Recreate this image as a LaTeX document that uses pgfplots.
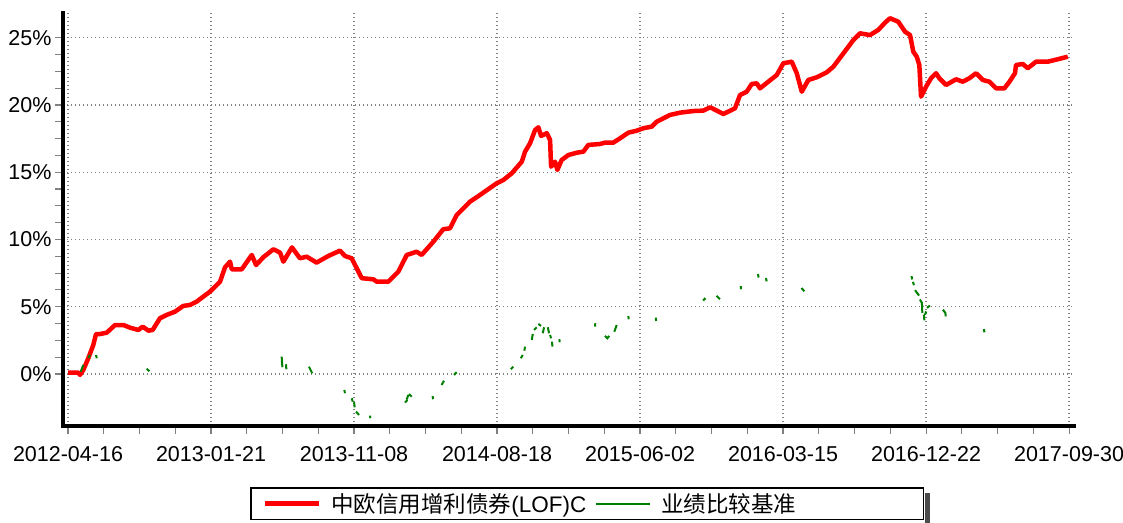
\documentclass[border=0pt]{standalone}
\usepackage{pgfplots}
\pgfplotsset{compat=1.18}
\usepackage{pgfplotstable}
\usepackage{fontspec}
\setmainfont{Liberation Sans}
\newfontfamily\cjk{Noto Sans CJK SC}
\definecolor{fundred}{RGB}{255,0,0}
\definecolor{benchgreen}{RGB}{0,128,0}
\definecolor{gridgray}{RGB}{128,128,128}

\pgfplotstableread{
x y
0.000 0.10
0.072 0.10
0.084 -0.07
0.107 0.30
0.142 1.17
0.177 2.16
0.196 2.97
0.224 2.97
0.271 3.07
0.329 3.64
0.387 3.64
0.434 3.44
0.492 3.27
0.522 3.52
0.562 3.22
0.592 3.27
0.643 4.14
0.690 4.39
0.748 4.63
0.806 5.06
0.853 5.13
0.900 5.38
0.946 5.75
0.993 6.12
1.063 6.86
1.098 7.93
1.133 8.35
1.145 7.78
1.215 7.78
1.285 8.85
1.315 8.10
1.366 8.68
1.436 9.27
1.483 9.02
1.506 8.35
1.566 9.41
1.622 8.60
1.669 8.72
1.738 8.28
1.820 8.77
1.902 9.17
1.937 8.77
1.984 8.60
2.054 7.12
2.135 7.04
2.159 6.86
2.240 6.86
2.310 7.61
2.369 8.85
2.438 9.09
2.473 8.85
2.555 9.84
2.624 10.76
2.671 10.83
2.718 11.82
2.811 12.81
2.881 13.31
2.998 14.18
3.044 14.42
3.103 14.92
3.173 15.78
3.196 16.53
3.231 17.15
3.266 18.14
3.289 18.34
3.308 17.70
3.348 17.90
3.371 17.40
3.378 15.41
3.406 15.78
3.422 15.17
3.452 15.91
3.499 16.28
3.557 16.45
3.604 16.53
3.638 17.03
3.720 17.10
3.755 17.20
3.813 17.20
3.860 17.52
3.918 17.94
3.977 18.09
4.023 18.27
4.082 18.39
4.117 18.76
4.210 19.26
4.280 19.43
4.373 19.55
4.443 19.58
4.490 19.83
4.583 19.33
4.664 19.75
4.699 20.74
4.746 20.99
4.781 21.56
4.816 21.61
4.839 21.24
4.897 21.73
4.956 22.23
5.002 23.10
5.061 23.22
5.096 22.36
5.131 20.99
5.177 21.86
5.236 22.06
5.306 22.43
5.352 22.85
5.422 23.84
5.492 24.83
5.538 25.33
5.608 25.20
5.666 25.58
5.713 26.12
5.748 26.45
5.806 26.19
5.853 25.45
5.888 25.20
5.911 23.96
5.935 23.59
5.953 22.97
5.965 20.62
6.000 21.36
6.035 21.99
6.070 22.36
6.093 21.99
6.140 21.49
6.210 21.91
6.257 21.73
6.303 21.99
6.350 22.36
6.397 21.86
6.443 21.73
6.490 21.24
6.548 21.24
6.583 21.73
6.622 22.36
6.629 22.97
6.676 23.05
6.711 22.73
6.769 23.22
6.851 23.22
6.921 23.40
6.991 23.59
}\fundtable

\pgfplotstableread{
x y
0.089 0.17
0.107 0.67
nan nan
0.142 1.19
0.154 1.41
nan nan
0.196 1.41
0.201 1.17
nan nan
0.550 0.39
0.569 0.20
nan nan
1.494 1.29
1.499 0.50
nan nan
1.524 0.72
1.527 0.35
nan nan
1.685 0.54
1.708 0.05
nan nan
1.932 -1.19
1.937 -1.43
nan nan
1.984 -1.81
1.991 -2.06
nan nan
2.000 -2.10
2.005 -2.48
nan nan
2.014 -2.80
2.035 -3.05
nan nan
2.112 -3.10
2.114 -3.29
nan nan
2.357 -2.13
2.373 -1.93
nan nan
2.369 -1.88
2.380 -1.56
nan nan
2.385 -1.49
2.403 -1.69
nan nan
2.550 -1.64
2.552 -1.88
nan nan
2.613 -0.82
2.629 -0.50
nan nan
2.699 -0.07
2.718 0.13
nan nan
3.096 0.35
3.114 0.54
nan nan
3.166 1.17
3.180 1.41
nan nan
3.191 1.73
3.196 2.03
nan nan
3.243 2.53
3.250 2.97
nan nan
3.259 3.27
3.278 3.47
nan nan
3.289 3.72
3.308 3.57
nan nan
3.320 3.03
3.329 3.47
nan nan
3.355 3.47
3.364 3.03
nan nan
3.371 2.90
3.378 2.65
nan nan
3.385 2.40
3.387 2.03
nan nan
3.436 2.58
3.438 2.36
nan nan
3.685 3.77
3.687 3.52
nan nan
3.755 2.83
3.771 2.65
3.785 2.83
nan nan
3.820 3.14
3.837 3.64
nan nan
3.918 4.31
3.921 4.07
nan nan
4.110 4.19
4.112 3.94
nan nan
4.441 5.46
4.458 5.64
nan nan
4.535 5.81
4.559 5.56
nan nan
4.704 6.54
4.706 6.30
nan nan
4.825 7.43
4.829 7.17
nan nan
4.881 7.14
4.885 6.88
nan nan
5.129 6.39
5.149 6.15
nan nan
5.898 7.27
5.904 7.03
nan nan
5.909 6.85
5.915 6.60
nan nan
5.923 6.23
5.951 5.83
nan nan
5.957 5.53
5.971 5.28
5.974 4.54
nan nan
5.985 4.41
5.988 3.99
nan nan
5.993 4.41
6.001 4.65
nan nan
6.007 4.91
6.027 5.08
nan nan
6.118 4.78
6.135 4.54
6.138 4.28
nan nan
6.405 3.34
6.408 3.09
}\benchtable

\begin{document}
\begin{tikzpicture}
\path[use as bounding box] (0,0) rectangle (1123pt,522pt);
\begin{axis}[
  at={(63pt,96pt)}, anchor=south west,
  scale only axis, width=1011pt, height=413pt,
  xmin=-0.035, xmax=7.035, ymin=-3.87, ymax=26.84,
  axis x line*=bottom, axis y line*=left,
  every non boxed x axis/.append style={x axis line style=-},
  every non boxed y axis/.append style={y axis line style=-},
  axis line style={line width=3.5pt, line cap=rect, -},
  x axis line style={-}, y axis line style={-},
  xtick={0,...,7},
  xticklabels={2012-04-16,2013-01-21,2013-11-08,2014-08-18,2015-06-02,2016-03-15,2016-12-22,2017-09-30},
  ytick={0,5,10,15,20,25},
  yticklabels={0\%,5\%,10\%,15\%,20\%,25\%},
  minor x tick num=3, minor y tick num=3,
  tick align=outside,
  major tick length=8pt, minor tick length=8pt,
  every tick/.style={gridgray, line width=1.1pt},
  xmajorgrids, ymajorgrids,
  grid style={gridgray, line width=1.4pt, dash pattern=on 1.4pt off 2.6pt},
  tick label style={font=\fontsize{21.5}{24}\selectfont},
  xticklabel style={yshift=-9pt},
  unbounded coords=jump,
  legend columns=2,
  legend image code/.code={\draw[#1, line cap=butt] (0pt,0pt) -- (54pt,0pt);},
  legend style={
    name=leg,
    at={(0.185,-0.1477)}, anchor=north west,
    draw=black, line width=1.5pt, fill=white,
    inner xsep=12pt, inner ysep=3.5pt,
    font=\fontsize{22.5}{26}\selectfont,
    nodes={inner xsep=0pt, inner ysep=2pt},
    /tikz/every odd column/.append style={column sep=10pt},
    /tikz/every even column/.append style={column sep=9pt},
  },
]
\addplot[fundred, line width=4.5pt, line join=round] table[x=x, y=y] {\fundtable};
\addlegendentry{{\cjk 中欧信用增利债券}(LOF)C}
\addplot[benchgreen, line width=2pt, line cap=butt] table[x=x, y=y] {\benchtable};
\addlegendentry{\makebox[250pt][l]{\cjk 业绩比较基准}}
\end{axis}
\fill[black!70] ([xshift=0.75pt,yshift=-6pt]leg.north east) rectangle ([xshift=6pt,yshift=-6pt]leg.south east);
\end{tikzpicture}
\end{document}
